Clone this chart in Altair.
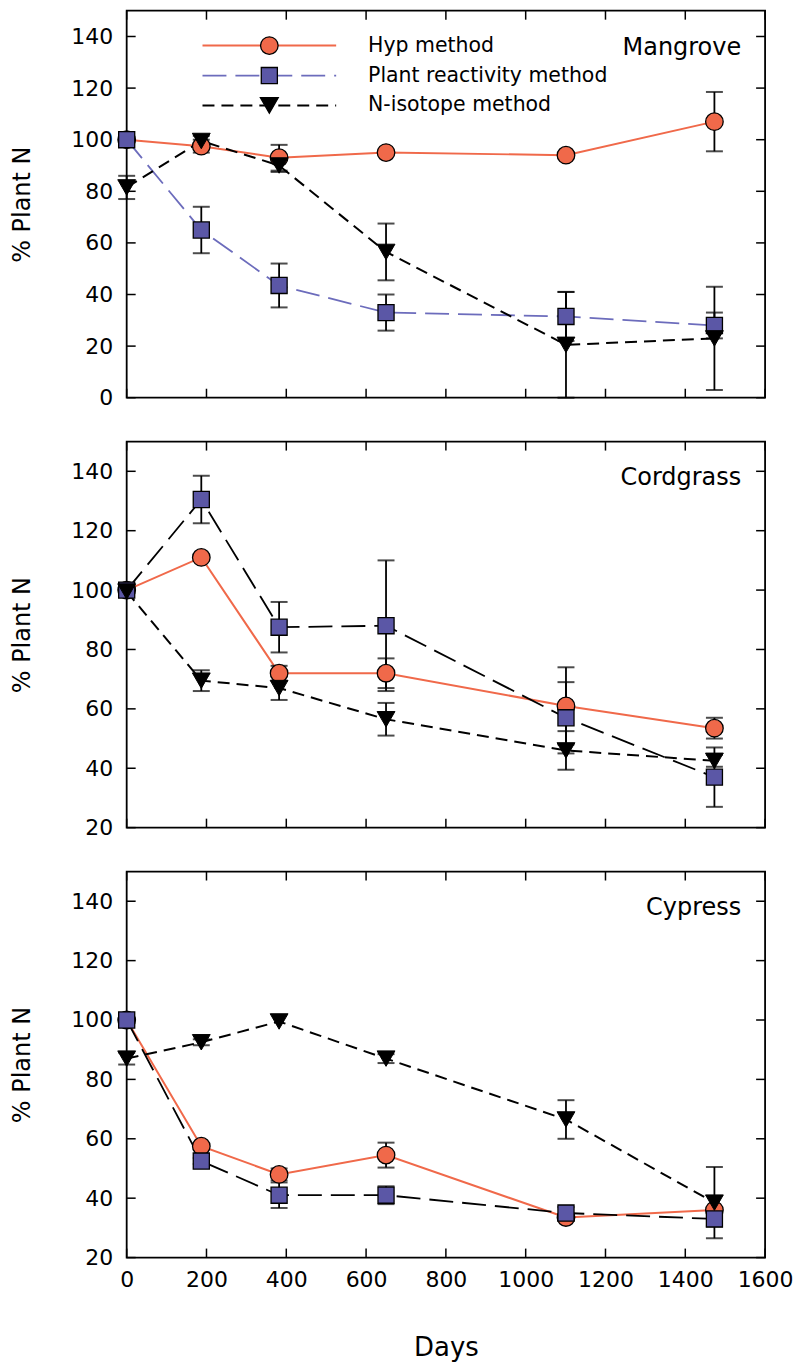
import altair as alt
import pandas as pd

# ---------------- data ----------------
days = [0, 187, 382, 650, 1101, 1473]
methods = ["Hyp method", "Plant reactivity method", "N-isotope method"]
panel_names = ["Mangrove", "Cordgrass", "Cypress"]

mangrove_hyp = [100, 97.5, 93, 95, 94, 107]
mangrove_hyp_err = [0, 2.5, 5, 0, 0, 11.5]
mangrove_pr = [100, 65, 43.5, 33, 31.5, 28]
mangrove_pr_err = [0, 9, 8.5, 7, 9.5, 5]
mangrove_iso = [81.5, 99.5, 90, 56.5, 20.5, 23]
mangrove_iso_err = [4.5, 2, 2.5, 11, 20.5, 20]

cordgrass_hyp = [100, 111, 72, 72, 61, 53.5]
cordgrass_hyp_err = [0, 1, 2.5, 5, 13, 3.5]
cordgrass_pr = [100, 130.5, 87.5, 88, 57, 37]
cordgrass_pr_err = [0, 8, 8.5, 22, 12, 10]
cordgrass_iso = [99.5, 69.5, 67, 56.5, 46, 42.5]
cordgrass_iso_err = [0, 3.5, 4, 5.5, 6.5, 2]

cypress_hyp = [100, 57.5, 48, 54.5, 33.5, 36]
cypress_hyp_err = [0, 1, 2, 4.2, 1, 0]
cypress_pr = [100, 52.5, 41, 41, 35, 33]
cypress_pr_err = [0, 1, 4.3, 3, 2, 2.5]
cypress_iso = [87, 92.5, 99.5, 87, 66.5, 38.5]
cypress_iso_err = [2, 1, 0, 1.5, 6.5, 12]

x_ticks = [0, 200, 400, 600, 800, 1000, 1200, 1400, 1600]
y_ticks_top = [0, 20, 40, 60, 80, 100, 120, 140]
y_ticks_low = [20, 40, 60, 80, 100, 120, 140]
y_domain_top = [0, 150]
y_domain_low = [20, 150]

# ---------------- styles ----------------
HYP_COLOR = "#F0694A"
SQ_FILL = "#5B57A6"
PR_BLUE = "#6C6CBC"
FONT = "DejaVu Sans"
W = 640
TICK_LEN = 9


def series_df(vals, errs):
    df = pd.DataFrame({"day": days, "value": vals, "err": errs})
    df["lo"] = df["value"] - df["err"]
    df["hi"] = df["value"] + df["err"]
    return df


def panel(name, hyp, hyp_err, pr, pr_err, iso, iso_err, ydom, yticks, H,
          show_x, show_legend, pr_line_color):
    xaxis = None
    if show_x:
        xaxis = alt.Axis(values=x_ticks, ticks=False, domain=False, grid=False,
                         labelFontSize=22, labelPadding=12, format="d",
                         labelOverlap=False, labelFlush=False,
                         title="Days", titleFontSize=26, titlePadding=44)
    xscale = alt.Scale(domain=[0, 1600], nice=False, zero=False)
    yscale = alt.Scale(domain=ydom, nice=False, zero=False)
    yaxis = alt.Axis(values=yticks, ticks=False, domain=False, grid=False,
                     labelFontSize=22, labelPadding=14, format="d",
                     labelOverlap=False, labelFlush=False,
                     title="% Plant N", titleFontSize=24, titlePadding=36)

    def X(f="day"):
        return alt.X(f"{f}:Q", scale=xscale, axis=xaxis)

    def Y(f="value"):
        return alt.Y(f"{f}:Q", scale=yscale, axis=yaxis)

    d_hyp = series_df(hyp, hyp_err)
    d_pr = series_df(pr, pr_err)
    d_iso = series_df(iso, iso_err)

    layers = []

    # inward ticks (left/right and bottom/top)
    ytk = pd.DataFrame({"value": yticks})
    xtk = pd.DataFrame({"day": x_ticks})
    layers.append(alt.Chart(ytk).mark_rule(color="black", strokeWidth=1.5).encode(
        y=Y(), x=alt.value(0), x2=alt.value(TICK_LEN)))
    layers.append(alt.Chart(ytk).mark_rule(color="black", strokeWidth=1.5).encode(
        y=Y(), x=alt.value(W - TICK_LEN), x2=alt.value(W)))
    layers.append(alt.Chart(xtk).mark_rule(color="black", strokeWidth=1.5).encode(
        x=X(), y=alt.value(H - TICK_LEN), y2=alt.value(H)))
    layers.append(alt.Chart(xtk).mark_rule(color="black", strokeWidth=1.5).encode(
        x=X(), y=alt.value(0), y2=alt.value(TICK_LEN)))

    # lines
    layers.append(alt.Chart(d_hyp).mark_line(color=HYP_COLOR, strokeWidth=2).encode(
        x=X(), y=Y()))
    layers.append(alt.Chart(d_pr).mark_line(color=pr_line_color, strokeWidth=1.8,
                                            strokeDash=[24, 9]).encode(x=X(), y=Y()))
    layers.append(alt.Chart(d_iso).mark_line(color="black", strokeWidth=2,
                                             strokeDash=[12, 7]).encode(x=X(), y=Y()))

    # error bars
    for d in (d_hyp, d_pr, d_iso):
        e = d[d["err"] > 0]
        if len(e) == 0:
            continue
        layers.append(alt.Chart(e).mark_rule(color="black", strokeWidth=1.8).encode(
            x=X(), y=Y("lo"), y2="hi:Q"))
        layers.append(alt.Chart(e).mark_tick(color="black", orient="horizontal",
                                             size=17, thickness=2).encode(x=X(), y=Y("lo")))
        layers.append(alt.Chart(e).mark_tick(color="black", orient="horizontal",
                                             size=17, thickness=2).encode(x=X(), y=Y("hi")))

    # points
    layers.append(alt.Chart(d_hyp).mark_point(shape="circle", filled=True, fill=HYP_COLOR,
                                              stroke="black", strokeWidth=1.3, size=310,
                                              opacity=1).encode(x=X(), y=Y()))
    layers.append(alt.Chart(d_pr).mark_point(shape="square", filled=True, fill=SQ_FILL,
                                             stroke="black", strokeWidth=1.3, size=260,
                                             opacity=1).encode(x=X(), y=Y()))
    layers.append(alt.Chart(d_iso).mark_point(shape="triangle-down", filled=True,
                                              fill="black", stroke="black", strokeWidth=1,
                                              size=320, opacity=1).encode(x=X(), y=Y()))

    # panel label
    layers.append(alt.Chart(pd.DataFrame({"name": [name]})).mark_text(
        align="right", baseline="middle", fontSize=24, font=FONT, color="black").encode(
        text="name:N", x=alt.value(W - 24), y=alt.value(37)))

    # legend
    if show_legend:
        styles = [
            dict(line=dict(color=HYP_COLOR, strokeWidth=2),
                 pt=dict(shape="circle", fill=HYP_COLOR, size=310)),
            dict(line=dict(color=PR_BLUE, strokeWidth=1.8, strokeDash=[24, 9]),
                 pt=dict(shape="square", fill=SQ_FILL, size=260)),
            dict(line=dict(color="black", strokeWidth=2, strokeDash=[12, 7]),
                 pt=dict(shape="triangle-down", fill="black", size=320)),
        ]
        for i, (lab, st) in enumerate(zip(methods, styles)):
            ld = pd.DataFrame({"label": [lab]})
            yy = 35 + 30 * i
            layers.append(alt.Chart(ld).mark_rule(**st["line"]).encode(
                x=alt.value(76), x2=alt.value(210), y=alt.value(yy)))
            layers.append(alt.Chart(ld).mark_point(filled=True, stroke="black",
                                                   strokeWidth=1.3, opacity=1,
                                                   **st["pt"]).encode(
                x=alt.value(143), y=alt.value(yy)))
            layers.append(alt.Chart(ld).mark_text(align="left", baseline="middle",
                                                  fontSize=20.5, font=FONT,
                                                  color="black").encode(
                text="label:N", x=alt.value(242), y=alt.value(yy)))

    return alt.layer(*layers).properties(width=W, height=H)


p1 = panel(panel_names[0], mangrove_hyp, mangrove_hyp_err, mangrove_pr, mangrove_pr_err,
           mangrove_iso, mangrove_iso_err, y_domain_top, y_ticks_top, 388,
           False, True, PR_BLUE)
p2 = panel(panel_names[1], cordgrass_hyp, cordgrass_hyp_err, cordgrass_pr, cordgrass_pr_err,
           cordgrass_iso, cordgrass_iso_err, y_domain_low, y_ticks_low, 387,
           False, False, "black")
p3 = panel(panel_names[2], cypress_hyp, cypress_hyp_err, cypress_pr, cypress_pr_err,
           cypress_iso, cypress_iso_err, y_domain_low, y_ticks_low, 387,
           True, False, "black")

chart = alt.vconcat(p1, p2, p3, spacing=30).properties(
    padding={"left": 10, "top": 7, "right": 5, "bottom": 5},
    background="white",
).configure_view(stroke="black", strokeWidth=1.8).configure_axis(
    labelFont=FONT, titleFont=FONT, labelColor="black", titleColor="black",
    titleFontWeight="normal"
)

chart.save("out.html", embed_options={"renderer": "svg", "actions": False})
